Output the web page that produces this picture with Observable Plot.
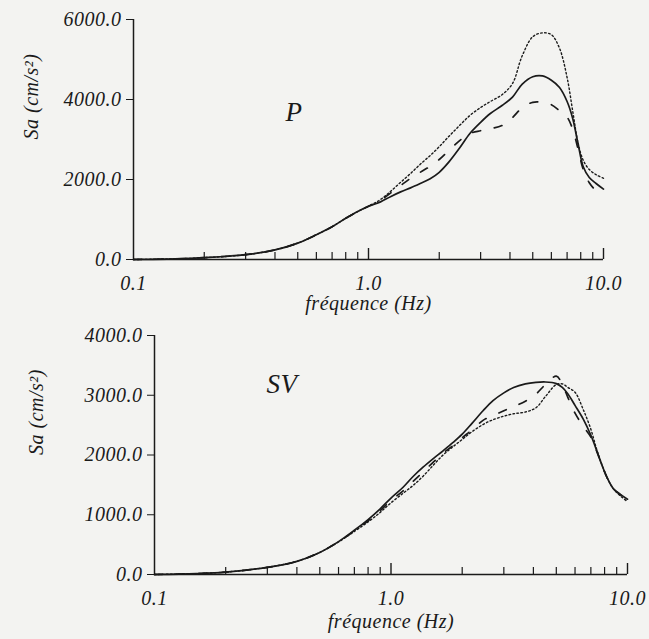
<!DOCTYPE html>
<html><head><meta charset="utf-8">
<script src="https://cdn.jsdelivr.net/npm/d3@7"></script>
<script src="https://cdn.jsdelivr.net/npm/@observablehq/plot@0.6"></script>
<style>
html,body{margin:0;padding:0;background:#f3f3f1;}
#wrap{width:649px;height:639px;position:relative;overflow:hidden;}
#wrap svg{display:block;}
</style></head><body><div id="wrap"></div>
<script>
// ---- Data: P panel ----
const freqP = [0.1,0.15,0.2,0.3,0.4,0.5,0.6,0.7,0.8,0.9,1.0,1.125,1.24,1.37,1.51,1.66,1.83,2.0,2.2,2.45,2.7,3.0,3.3,3.7,4.1,4.5,5.0,5.5,6.0,6.5,7.0,7.4,7.8,8.2,8.7,9.3,10];
const solidP  = [0,15,45,120,240,410,620,820,1030,1200,1330,1440,1570,1690,1790,1900,2020,2180,2440,2800,3150,3430,3650,3850,4060,4380,4570,4590,4480,4300,3950,3520,2880,2320,2050,1900,1760];
const dottedP = [0,15,45,120,240,410,620,820,1030,1200,1330,1500,1700,1930,2150,2380,2600,2820,3080,3360,3600,3800,3950,4120,4400,5080,5570,5665,5620,5280,4550,3700,2900,2480,2250,2120,2030];
const dashedP = [0,15,45,120,240,410,620,820,1030,1200,1330,1480,1660,1850,2030,2180,2330,2500,2730,2980,3150,3220,3270,3350,3550,3790,3930,3930,3870,3720,3560,3250,2750,2250,1920,1720,1580];

// ---- Data: SV panel ----
const freqSV = [0.1,0.15,0.2,0.3,0.4,0.5,0.6,0.7,0.8,0.9,1.0,1.125,1.24,1.37,1.51,1.66,1.83,2.0,2.2,2.45,2.7,3.0,3.3,3.7,4.1,4.5,5.0,5.3,5.6,6.0,6.5,7.0,7.4,7.8,8.2,8.7,9.3,10];
const solidSV  = [0,15,40,120,220,370,550,740,920,1100,1280,1460,1640,1800,1940,2070,2210,2350,2530,2740,2910,3040,3130,3190,3215,3222,3195,3130,3020,2830,2600,2330,2080,1830,1620,1440,1345,1260];
const dottedSV = [0,15,40,120,220,370,545,720,880,1040,1200,1360,1490,1650,1830,2000,2140,2260,2390,2510,2590,2650,2690,2720,2790,2980,3180,3190,3130,3050,2760,2430,2100,1830,1620,1440,1320,1220];
const dashedSV = [0,15,40,120,220,370,548,730,900,1070,1240,1400,1560,1720,1880,2030,2160,2290,2420,2580,2660,2740,2810,2900,3020,3180,3320,3180,2960,2700,2480,2300,2070,1830,1620,1440,1340,1240];

// ---- Axes ----
const xTickLabels = [0.1, 1, 10];
const minorTicks = [0.2,0.3,0.4,0.5,0.6,0.7,0.8,0.9,2,3,4,5,6,7,8,9];
const majorTicks = [1, 10];
const yTicksP = [0, 2000, 4000, 6000];
const yTicksSV = [0, 1000, 2000, 3000, 4000];
const yLabel = "Sa (cm/s²)";
const xLabel = "fréquence (Hz)";

const ink = "#1a1a1a";
const fontFamily = "'Liberation Serif', 'Times New Roman', serif";

function rows(freq, vals) { return freq.map((f, i) => ({f, v: vals[i]})); }

function panel(o) {
  const pxPerUnit = (o.height - o.mt - o.mb) / o.yMax;
  const minorLen = 7 / pxPerUnit, majorLen = 11 / pxPerUnit;
  return Plot.plot({
    width: 649, height: o.height,
    marginLeft: o.ml, marginRight: o.mr, marginTop: o.mt, marginBottom: o.mb,
    style: {background: "transparent", color: ink, fontFamily, fontStyle: "italic", fontSize: "20px", letterSpacing: "0.5px"},
    x: {type: "log", domain: [0.1, 10], ticks: xTickLabels, tickFormat: d => d.toFixed(1), tickSize: 0, tickPadding: 16, label: null},
    y: {domain: [0, o.yMax], ticks: o.yTicks, tickFormat: d => d.toFixed(1), tickSize: 7, tickPadding: 5, label: null},
    marks: [
      Plot.ruleY([0], {stroke: ink, strokeWidth: 1.5}),
      Plot.ruleX([0.1], {y1: 0, y2: o.yMax, stroke: ink, strokeWidth: 1.5}),
      Plot.ruleX(minorTicks, {x: d => d, y1: 0, y2: minorLen, stroke: ink, strokeWidth: 1.2}),
      Plot.ruleX(majorTicks, {x: d => d, y1: 0, y2: majorLen, stroke: ink, strokeWidth: 1.4}),
      Plot.line(rows(o.freq, o.dotted), {x: "f", y: "v", curve: "catmull-rom", stroke: ink, strokeWidth: 1.4, strokeDasharray: "1.6,2.4"}),
      Plot.line(rows(o.freq, o.dashed), {x: "f", y: "v", curve: "catmull-rom", stroke: ink, strokeWidth: 1.7, strokeDasharray: "8,14"}),
      Plot.line(rows(o.freq, o.solid), {x: "f", y: "v", curve: "catmull-rom", stroke: ink, strokeWidth: 1.7}),
      Plot.text([o.name], {frameAnchor: "top-left", dx: o.nameDx, dy: o.nameDy, fontSize: 27, fill: ink}),
      Plot.text([yLabel], {frameAnchor: "left", dx: o.yLabelDx, rotate: -90, fontSize: 20, fill: ink}),
      Plot.text([xLabel], {frameAnchor: "bottom", dy: o.xLabelDy, fontSize: 20, fill: ink})
    ]
  });
}

const wrap = document.getElementById("wrap");
wrap.append(panel({
  freq: freqP, solid: solidP, dotted: dottedP, dashed: dashedP,
  yMax: 6000, yTicks: yTicksP, name: "P",
  height: 320, ml: 133, mr: 46, mt: 19, mb: 61,
  nameDx: 152, nameDy: 82, yLabelDx: -102, xLabelDy: 50
}));
wrap.append(panel({
  freq: freqSV, solid: solidSV, dotted: dottedSV, dashed: dashedSV,
  yMax: 4000, yTicks: yTicksSV, name: "SV",
  height: 319, ml: 154, mr: 22, mt: 15, mb: 65,
  nameDx: 112, nameDy: 38, yLabelDx: -118, xLabelDy: 53
}));
</script></body></html>
